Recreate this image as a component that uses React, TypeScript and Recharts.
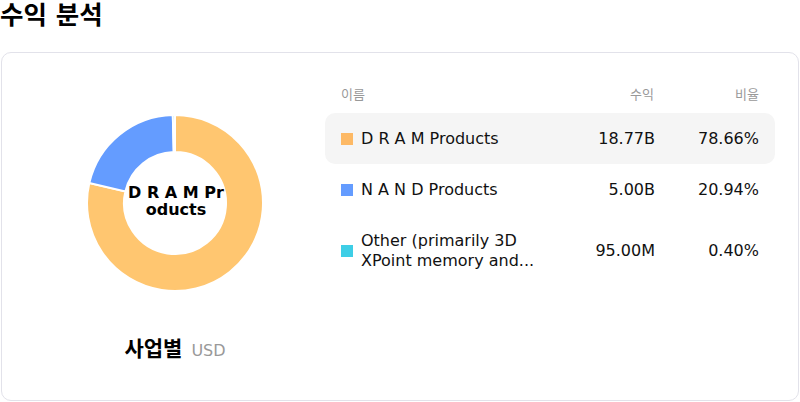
import React from "react";
import { PieChart, Pie, Cell } from "recharts";

const segmentNames = ["D R A M Products", "N A N D Products", "Other (primarily 3D XPoint memory and..."];
const segmentValues = [18.77, 5.0, 0.095];
const revenueLabels = ["18.77B", "5.00B", "95.00M"];
const shareLabels = ["78.66%", "20.94%", "0.40%"];
const pieColors = ["#FFC670", "#649CFF", "#3ECEE6"];
const swatchColors = ["#FDB965", "#649CFF", "#3ECEE6"];
const centerLabel = "D R A M Products";

const FONT = "'DejaVu Sans', 'Noto Sans CJK KR', sans-serif";

const pieData = segmentNames.map((name, i) => ({ name, value: segmentValues[i] }));

export default function App() {
  return (
    <div style={{ position: "fixed", left: 0, top: 0, width: 800, height: 402, background: "#fff", fontFamily: FONT }}>
      <div style={{ position: "absolute", left: 0, top: 0, fontSize: 25.5, fontWeight: 700, lineHeight: "31px", color: "#000" }}>
        수익 분석
      </div>
      <div
        style={{
          position: "absolute", left: 1, top: 52, width: 796, height: 347,
          border: "1px solid #e2e2ea", borderRadius: 10,
        }}
      />
      <div style={{ position: "absolute", left: 0, top: 52 }}>
        <PieChart width={350} height={260} margin={{ top: 0, right: 0, bottom: 0, left: 0 }}>
          <Pie
            data={pieData}
            dataKey="value"
            nameKey="name"
            cx={175}
            cy={151}
            innerRadius={51}
            outerRadius={88}
            startAngle={90}
            endAngle={-270}
            stroke="#fff"
            strokeWidth={2}
            isAnimationActive={false}
          >
            {pieData.map((d, i) => (
              <Cell key={d.name} fill={pieColors[i]} />
            ))}
          </Pie>
        </PieChart>
      </div>
      <div
        style={{
          position: "absolute", left: 126, width: 100, top: 184, textAlign: "center",
          fontSize: 16, fontWeight: 700, lineHeight: "17px", color: "#000",
          wordBreak: "break-all",
        }}
      >
        {centerLabel}
      </div>
      <div style={{ position: "absolute", left: 0, width: 350, top: 336, textAlign: "center", lineHeight: "26px" }}>
        <span style={{ fontSize: 21, fontWeight: 700, color: "#000" }}>사업별</span>
        <span style={{ fontSize: 16, color: "#999", marginLeft: 9 }}>USD</span>
      </div>
      <div style={{ position: "absolute", left: 325, top: 82, width: 450 }}>
        <div style={{ display: "flex", height: 22, alignItems: "center", fontSize: 13, color: "#999", padding: "0 16px" }}>
          <div style={{ flex: 1 }}>이름</div>
          <div style={{ width: 110, textAlign: "right" }}>수익</div>
          <div style={{ width: 105, textAlign: "right" }}>비율</div>
        </div>
        <div style={{ height: 9 }} />
        {segmentNames.map((name, i) => (
          <div
            key={name}
            style={{
              display: "flex", alignItems: "center", padding: "15.5px 16px",
              background: i === 0 ? "#f5f5f5" : "transparent", borderRadius: 10,
              fontSize: 16, lineHeight: "20px", color: "#111",
            }}
          >
            <div style={{ flex: 1, display: "flex", alignItems: "center" }}>
              <div style={{ width: 12, height: 12, background: swatchColors[i], marginRight: 8, flexShrink: 0 }} />
              <div style={{ width: 185, overflow: "hidden", display: "-webkit-box", WebkitLineClamp: 2, WebkitBoxOrient: "vertical" } as any}>
                {name}
              </div>
            </div>
            <div style={{ width: 110, textAlign: "right" }}>{revenueLabels[i]}</div>
            <div style={{ width: 105, textAlign: "right" }}>{shareLabels[i]}</div>
          </div>
        ))}
      </div>
    </div>
  );
}
